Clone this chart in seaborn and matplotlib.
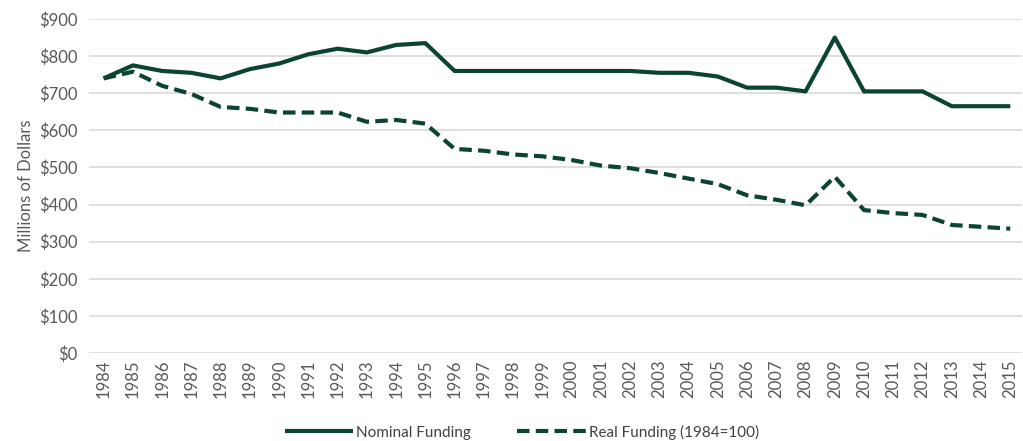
import pandas as pd
import seaborn as sns
import matplotlib.pyplot as plt
from matplotlib.ticker import FuncFormatter

years = list(range(1984, 2016))
nominal = [740, 775, 760, 755, 740, 765, 780, 805, 820, 810, 830, 835,
           760, 760, 760, 760, 760, 760, 760, 755, 755, 745, 715, 715,
           705, 850, 705, 705, 705, 665, 665, 665]
real = [740, 758, 720, 698, 663, 658, 648, 648, 648, 623, 628, 618,
        550, 545, 535, 530, 520, 505, 498, 485, 470, 455, 425, 413,
        398, 475, 385, 377, 372, 345, 340, 335]
series_names = ['Nominal Funding', 'Real Funding (1984=100)']

df = pd.DataFrame({
    'year': years * 2,
    'value': nominal + real,
    'series': [series_names[0]] * len(years) + [series_names[1]] * len(years),
})

sns.set_style('white')
plt.rcParams['font.family'] = ['Lato', 'DejaVu Sans']

green = '#0b4430'
grey = '#595959'

fig = plt.figure(figsize=(10.23, 4.41), dpi=100)
ax = fig.add_axes([89 / 1023, 1 - 353 / 441, (1022 - 89) / 1023, (353 - 19) / 441])

sns.lineplot(data=df, x='year', y='value', hue='series', style='series',
             palette=[green, green], dashes=[(1, 0), (3, 1.5)],
             linewidth=3, ax=ax, legend=True)

ax.set_xlim(1983.5, 2015.4)
ax.set_ylim(0, 900)
ax.set_xticks(years)
ax.set_xticklabels([str(y) for y in years], rotation=90, fontsize=12, color=grey)
ax.set_yticks(range(0, 901, 100))
ax.yaxis.set_major_formatter(FuncFormatter(lambda v, p: f'${int(v)}'))
ax.tick_params(axis='y', labelsize=12, colors=grey, length=0, pad=8)
ax.tick_params(axis='x', length=0, pad=5)
ax.grid(axis='y', color='#d9d9d9', linewidth=1.2)
ax.set_axisbelow(True)
for s in ax.spines.values():
    s.set_visible(False)
ax.set_xlabel('')
ax.set_ylabel('Millions of Dollars', fontsize=12, color=grey, labelpad=4)

handles, labels = ax.get_legend_handles_labels()
ax.legend(handles, labels, loc='center', bbox_to_anchor=(0.464, -0.237),
          ncol=2, frameon=False, fontsize=11, labelcolor='#404040',
          handlelength=4.5, columnspacing=3, handletextpad=0.2,
          borderaxespad=0, borderpad=0)

fig.savefig('out.png', dpi=100)
